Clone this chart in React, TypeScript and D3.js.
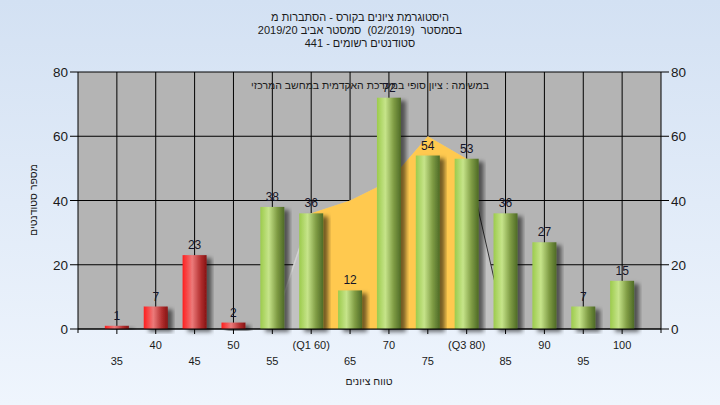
import React, { useEffect } from 'react';
import * as d3 from 'd3';

const grades = [35, 40, 45, 50, 55, 60, 65, 70, 75, 80, 85, 90, 95, 100];
const counts = [1, 7, 23, 2, 38, 36, 12, 72, 54, 53, 36, 27, 7, 15];
const tickLabels = ['35', '40', '45', '50', '55', '(Q1 60)', '65', '70', '75', '(Q3 80)', '85', '90', '95', '100'];
const passMark = 55;
const q1 = 60;
const q3 = 80;
const curveGrades = [55, 60, 65, 70, 75, 80, 85];
const curveValues = [0, 36, 40, 46, 60, 53, 0];
const yTicks = [0, 20, 40, 60, 80];

const titleLines = [
  'היסטוגרמת ציונים בקורס - הסתברות מ',
  'בסמסטר  (02/2019)  סמסטר אביב 2019/20',
  'סטודנטים רשומים - 441',
];
const subtitle = 'במשימה : ציון סופי במערכת האקדמית במחשב המרכזי';
const xTitle = 'טווח ציונים';
const yTitle = 'מספר סטודנטים';

const W = 720;
const H = 405;
const margin = { top: 72, right: 59, bottom: 76, left: 78 };
const font = '"Liberation Sans", Arial, sans-serif';

const App: React.FC = () => {
  useEffect(() => {
    document.body.style.margin = '0';
  }, []);

  const x = d3
    .scalePoint<number>()
    .domain(grades)
    .range([margin.left, W - margin.right])
    .padding(1);
  const y = d3.scaleLinear().domain([0, 80]).range([H - margin.bottom, margin.top]);
  const barW = 24;
  const x0 = margin.left;
  const x1 = W - margin.right;
  const y0 = y(0);

  const pts: [number, number][] = curveGrades.map((g, i) => [x(g)!, y(curveValues[i])]);
  const area = d3
    .area<[number, number]>()
    .x((d) => d[0])
    .y0(y0)
    .y1((d) => d[1]);
  const line = d3
    .line<[number, number]>()
    .x((d) => d[0])
    .y((d) => d[1]);

  return (
    <svg width={W} height={H} style={{ display: 'block', fontFamily: font }}>
      <defs>
        <linearGradient id="bg" x1="0" y1="0" x2="0" y2="1">
          <stop offset="0" stopColor="#d3e1f3" />
          <stop offset="1" stopColor="#eff5fd" />
        </linearGradient>
        <linearGradient id="green" x1="0" y1="0" x2="1" y2="0">
          <stop offset="0" stopColor="#9ccb4c" />
          <stop offset="0.35" stopColor="#c6e48a" />
          <stop offset="0.7" stopColor="#7f9c44" />
          <stop offset="1" stopColor="#4e6a26" />
        </linearGradient>
        <linearGradient id="red" x1="0" y1="0" x2="1" y2="0">
          <stop offset="0" stopColor="#ff1e1e" />
          <stop offset="0.4" stopColor="#ec7a7a" />
          <stop offset="0.75" stopColor="#b33030" />
          <stop offset="1" stopColor="#861414" />
        </linearGradient>
        <filter id="shadow" x="-30%" y="-10%" width="160%" height="130%">
          <feDropShadow dx="5" dy="3" stdDeviation="2" floodColor="#000" floodOpacity="0.55" />
        </filter>
        <clipPath id="iqr">
          <rect x={x(q1)} y={margin.top} width={x(q3)! - x(q1)!} height={y0 - margin.top} />
        </clipPath>
      </defs>

      <rect width={W} height={H} fill="url(#bg)" />

      {/* title */}
      {titleLines.map((t, i) => (
        <text
          key={i}
          x={360}
          y={21 + i * 13}
          textAnchor="middle"
          fontSize={11}
          fill="#1a1a1a"
          direction="rtl"
          style={{ whiteSpace: 'pre' }}
        >
          {t}
        </text>
      ))}

      {/* plot area */}
      <rect x={x0} y={margin.top} width={x1 - x0} height={y0 - margin.top} fill="#b4b4b4" />

      {/* grid */}
      {yTicks.map((t) => (
        <line key={'h' + t} x1={x0} x2={x1} y1={y(t)} y2={y(t)} stroke="#000" strokeWidth={1} />
      ))}
      {grades.map((g) => (
        <line key={'v' + g} x1={x(g)} x2={x(g)} y1={margin.top} y2={y0 + 5} stroke="#000" strokeWidth={1} />
      ))}

      {/* quartile curve */}
      <path d={area(pts) || ''} fill="#c2c2c2" />
      <path d={area(pts) || ''} fill="#ffc94f" clipPath="url(#iqr)" />
      <path d={line(pts.slice(0, 2)) || ''} fill="none" stroke="#d2d2d2" strokeWidth={1.5} />
      <path d={line(pts.slice(-2)) || ''} fill="none" stroke="#333" strokeWidth={1} />

      <text x={370} y={89} textAnchor="middle" fontSize={10.5} fill="#1a1a1a" direction="rtl">
        {subtitle}
      </text>

      {/* bars */}
      {grades.map((g, i) => (
        <rect
          key={'b' + g}
          x={x(g)! - barW / 2}
          y={y(counts[i])}
          width={barW}
          height={y0 - y(counts[i])}
          fill={g < passMark ? 'url(#red)' : 'url(#green)'}
          filter="url(#shadow)"
        />
      ))}
      {grades.map((g, i) => (
        <text key={'l' + g} x={x(g)} y={y(counts[i]) - 6} textAnchor="middle" fontSize={12} fill="#141428">
          {counts[i]}
        </text>
      ))}

      {/* axes */}
      <line x1={x0} x2={x0} y1={margin.top} y2={y0 + 4} stroke="#000" />
      <line x1={x1} x2={x1} y1={margin.top} y2={y0 + 4} stroke="#000" />
      <line x1={x0} x2={x1} y1={y0} y2={y0} stroke="#000" />
      {yTicks.map((t) => (
        <g key={'yt' + t}>
          <line x1={x0 - 8} x2={x0} y1={y(t)} y2={y(t)} stroke="#000" />
          <line x1={x1} x2={x1 + 8} y1={y(t)} y2={y(t)} stroke="#000" />
          <text x={x0 - 10} y={y(t) + 5} textAnchor="end" fontSize={13.5} fill="#1a1a1a">
            {t}
          </text>
          <text x={x1 + 10} y={y(t) + 5} textAnchor="start" fontSize={13.5} fill="#1a1a1a">
            {t}
          </text>
        </g>
      ))}
      {grades.map((g, i) => (
        <text
          key={'xt' + g}
          x={x(g)}
          y={i % 2 === 1 ? 349 : 365}
          textAnchor="middle"
          fontSize={11}
          fill="#1a1a1a"
        >
          {tickLabels[i]}
        </text>
      ))}

      <text x={369} y={385} textAnchor="middle" fontSize={10.5} fill="#1a1a1a" direction="rtl">
        {xTitle}
      </text>
      <text
        transform="translate(37,200) rotate(-90)"
        textAnchor="middle"
        fontSize={10.5}
        fill="#1a1a1a"
        direction="rtl"
      >
        {yTitle}
      </text>
    </svg>
  );
};

export default App;
